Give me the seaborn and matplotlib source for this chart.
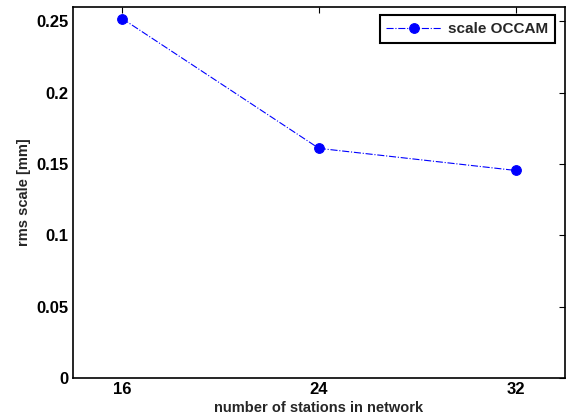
import pandas as pd
import matplotlib
matplotlib.use('Agg')
import matplotlib.pyplot as plt
import seaborn as sns

# Data
stations = [16, 24, 32]
rms_scale = [0.252, 0.161, 0.1455]
series_label = 'scale OCCAM'

df = pd.DataFrame({'stations': stations, 'rms': rms_scale})

sns.set_style('white')
plt.rcParams['font.family'] = ['Liberation Sans', 'DejaVu Sans']
plt.rcParams['font.weight'] = 'bold'

fig = plt.figure(figsize=(5.7, 4.2), dpi=100)
ax = fig.add_axes([0.128, 0.1, 0.863, 0.883])

sns.lineplot(data=df, x='stations', y='rms', ax=ax, color='blue',
             linestyle='-.', linewidth=0.8, marker='o', markersize=7,
             markeredgecolor='blue', label=series_label)

ax.set_xlim(14, 34)
ax.set_ylim(0, 0.26)
ax.set_xticks(stations)
ax.set_yticks([0, 0.05, 0.1, 0.15, 0.2, 0.25])
ax.set_yticklabels(['0', '0.05', '0.1', '0.15', '0.2', '0.25'])
ax.tick_params(direction='in', length=4, width=0.8, labelsize=12,
               top=True, right=True, colors='black', pad=3)
for lbl in ax.get_xticklabels() + ax.get_yticklabels():
    lbl.set_fontweight('bold')

for s in ax.spines.values():
    s.set_visible(True)
    s.set_color('black')
    s.set_linewidth(1.2)

ax.set_xlabel('number of stations in network', fontsize=10.5, fontweight='bold', labelpad=3)
ax.set_ylabel('rms scale [mm]', fontsize=10.5, fontweight='bold', labelpad=4)

leg = ax.legend(loc='upper right', fancybox=False, framealpha=1,
                edgecolor='black', fontsize=11, borderaxespad=0,
                bbox_to_anchor=(0.979, 0.978),
                handlelength=3.6, borderpad=0.45, handletextpad=0.4)
leg.get_frame().set_linewidth(1.5)
for t in leg.get_texts():
    t.set_fontweight('bold')

fig.savefig('out.png', dpi=100)
